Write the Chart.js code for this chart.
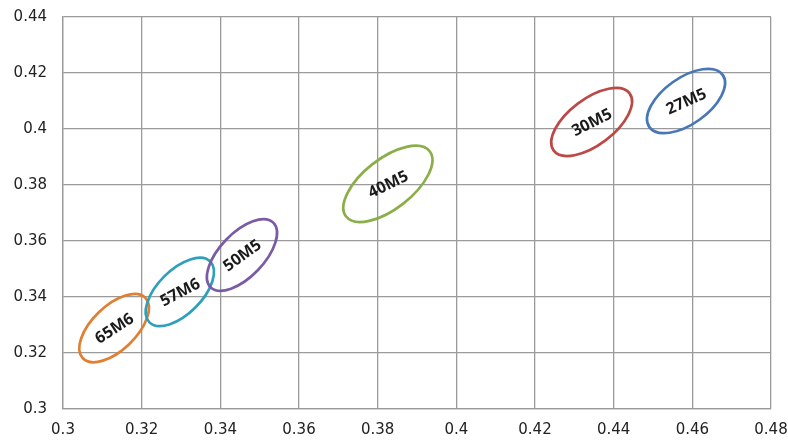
<!DOCTYPE html>
<html>
<head>
<meta charset="utf-8">
<script src="https://cdn.jsdelivr.net/npm/chart.js@4"></script>
<style>
  html, body { margin: 0; padding: 0; background: #fff; }
  #wrap { width: 788px; height: 441px; }
</style>
</head>
<body>
<div id="wrap"><canvas id="chart"></canvas></div>
<script>
// Data
const groupLabels = ['65M6', '57M6', '50M5', '40M5', '30M5', '27M5'];
const xValues = [0.313, 0.3297, 0.3455, 0.3826, 0.4344, 0.4584];
const yValues = [0.3289, 0.3418, 0.355, 0.3804, 0.4025, 0.41];
const xTicks = [0.3, 0.32, 0.34, 0.36, 0.38, 0.4, 0.42, 0.44, 0.46, 0.48];
const yTicks = [0.3, 0.32, 0.34, 0.36, 0.38, 0.4, 0.42, 0.44];

// Ellipse look (pixels / degrees)
const ellipseColors = ['#E07F31', '#2FA0BC', '#7A5BA6', '#8AAE48', '#BB4A47', '#4877B8'];
const ellipseMajor = [43.5, 43, 45, 53, 47.5, 45];
const ellipseMinor = [22, 22, 22, 25, 23, 23];
const ellipseAngle = [-44, -45, -46, -38, -37, -35.5];
const labelAngle = [-33, -28, -36, -26, -27, -24];

const ellipsePlugin = {
  id: 'ellipses',
  afterDatasetsDraw(chart) {
    const { ctx, scales } = chart;
    ctx.save();
    xValues.forEach((xv, i) => {
      const px = scales.x.getPixelForValue(xv);
      const py = scales.y.getPixelForValue(yValues[i]);
      ctx.beginPath();
      ctx.ellipse(px, py, ellipseMajor[i], ellipseMinor[i], ellipseAngle[i] * Math.PI / 180, 0, Math.PI * 2);
      ctx.strokeStyle = ellipseColors[i];
      ctx.lineWidth = 2.7;
      ctx.stroke();

      ctx.save();
      ctx.translate(px, py);
      ctx.rotate(labelAngle[i] * Math.PI / 180);
      ctx.font = 'bold 16px "Open Sans"';
      ctx.fillStyle = '#1a1a1a';
      ctx.textAlign = 'center';
      ctx.textBaseline = 'middle';
      ctx.fillText(groupLabels[i], 0, 1);
      ctx.restore();
    });
    ctx.restore();
  }
};

const tickFont = { family: 'DejaVu Sans', size: 15 };

new Chart(document.getElementById('chart'), {
  type: 'scatter',
  data: {
    datasets: [{
      data: xValues.map((x, i) => ({ x: x, y: yValues[i] })),
      pointRadius: 0,
      pointHoverRadius: 0
    }]
  },
  options: {
    responsive: true,
    maintainAspectRatio: false,
    animation: false,
    layout: { padding: { left: 0, top: 17, right: 17, bottom: 0 } },
    plugins: {
      legend: { display: false },
      tooltip: { enabled: false }
    },
    scales: {
      x: {
        type: 'linear',
        min: 0.3,
        max: 0.48,
        afterBuildTicks: (scale) => { scale.ticks = xTicks.map(v => ({ value: v })); },
        afterFit: (scale) => {
          scale.height = 32;
          scale.paddingLeft = 0;
          scale.paddingRight = 0;
        },
        ticks: {
          color: '#222',
          font: tickFont,
          padding: 12,
          maxRotation: 0,
          callback: (v) => String(+v.toFixed(2))
        },
        grid: { color: '#9a9a9a', lineWidth: 1.3, drawTicks: false },
        border: { color: '#9a9a9a', width: 1.3 }
      },
      y: {
        type: 'linear',
        min: 0.3,
        max: 0.44,
        afterBuildTicks: (scale) => { scale.ticks = yTicks.map(v => ({ value: v })); },
        afterFit: (scale) => {
          scale.width = 63;
          scale.paddingTop = 0;
          scale.paddingBottom = 0;
        },
        ticks: {
          color: '#222',
          font: tickFont,
          padding: 16,
          callback: (v) => String(+v.toFixed(2))
        },
        grid: { color: '#9a9a9a', lineWidth: 1.3, drawTicks: false },
        border: { color: '#9a9a9a', width: 1.3 }
      }
    }
  },
  plugins: [ellipsePlugin]
});
</script>
</body>
</html>
